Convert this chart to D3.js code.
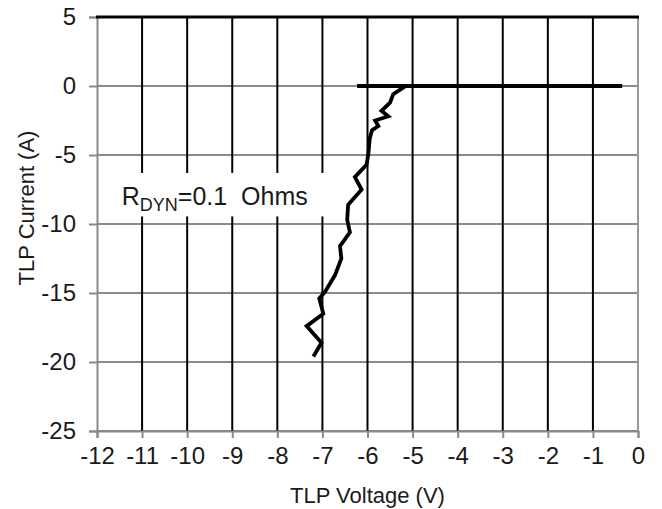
<!DOCTYPE html>
<html><head><meta charset="utf-8">
<script src="https://cdn.jsdelivr.net/npm/d3@7/dist/d3.min.js"></script>
<style>body{margin:0;background:#fff}svg{display:block}text{font-family:"Liberation Sans",Arial,sans-serif;fill:#1a1a1a}</style>
</head><body><svg id="c" width="662" height="509"></svg>
<script>
const xTicks = [-12,-11,-10,-9,-8,-7,-6,-5,-4,-3,-2,-1,0];
const yTicks = [5,0,-5,-10,-15,-20,-25];
// off-state segment (V, A)
const flatV = [-6.23, -0.35];
const flatI = [0, 0];
// snapback / clamping curve (V, A)
const curveV = [-5.15,-5.2,-5.43,-5.5,-5.69,-5.54,-5.83,-5.76,-5.9,-5.95,-5.98,-6.02,-6.28,-6.13,-6.43,-6.45,-6.39,-6.61,-6.58,-6.72,-6.94,-7.07,-6.98,-7.35,-7.02,-7.2];
const curveI = [0,-0.1,-0.6,-1.2,-1.8,-2.2,-2.5,-2.9,-3.2,-3.8,-4.9,-5.7,-6.6,-7.5,-8.6,-9.7,-10.6,-11.6,-12.5,-13.7,-14.9,-15.4,-16.5,-17.4,-18.6,-19.6];
const xTitle = "TLP Voltage (V)";
const yTitle = "TLP Current (A)";

const svg = d3.select("#c");
const L=97, R=638, T=17, B=431;
const x = d3.scaleLinear().domain([-12,0]).range([L,R]);
const y = d3.scaleLinear().domain([-25,5]).range([B,T]);
const fmt = d => String(d);

// horizontal gridlines (gray)
svg.append("g").selectAll("line").data(yTicks).join("line")
  .attr("x1",L).attr("x2",R).attr("y1",d=>y(d)).attr("y2",d=>y(d))
  .attr("stroke","#8a8a8a").attr("stroke-width",2);
// vertical gridlines (black)
svg.append("g").selectAll("line").data(xTicks.filter(d=>d>-12&&d<0)).join("line")
  .attr("x1",d=>x(d)).attr("x2",d=>x(d)).attr("y1",T).attr("y2",B)
  .attr("stroke","#000").attr("stroke-width",2);
// right border
svg.append("line").attr("x1",R).attr("x2",R).attr("y1",T).attr("y2",B).attr("stroke","#9a9a9a").attr("stroke-width",2);

// axes
const xAxis = d3.axisBottom(x).tickValues(xTicks).tickSize(7).tickPadding(9).tickFormat(fmt);
const gx = svg.append("g").attr("transform",`translate(0,${B})`).call(xAxis);
const yAxis = d3.axisLeft(y).tickValues(yTicks).tickSize(8).tickPadding(13).tickFormat(fmt);
const gy = svg.append("g").attr("transform",`translate(${L},0)`).call(yAxis);
[gx,gy].forEach(g=>{
  g.select(".domain").attr("stroke","#8a8a8a").attr("stroke-width",2);
  g.selectAll(".tick line").attr("stroke","#8a8a8a").attr("stroke-width",2);
  g.selectAll(".tick text").attr("font-size",24).attr("font-family","Liberation Sans, Arial, sans-serif").attr("fill","#1a1a1a");
});
// top border black
svg.append("line").attr("x1",L-1).attr("x2",R+1).attr("y1",y(5)).attr("y2",y(5)).attr("stroke","#000").attr("stroke-width",3);

// annotation box
svg.append("rect").attr("x",x(-11.82)).attr("y",y(-6.3)).attr("width",x(-6.8)-x(-11.82)).attr("height",y(-9.45)-y(-6.3)).attr("fill","#fff");
const ann = svg.append("text").attr("x",x(-11.45)).attr("y",y(-8.6)).attr("font-size",25).attr("xml:space","preserve");
ann.append("tspan").text("R");
ann.append("tspan").attr("font-size",18).attr("dy",6).text("DYN");
ann.append("tspan").attr("dy",-6).text("=0.1  Ohms");

// data lines
const line = d3.line().x(d=>x(d[0])).y(d=>y(d[1]));
svg.append("path").datum(flatV.map((v,i)=>[v,flatI[i]])).attr("d",line)
  .attr("fill","none").attr("stroke","#000").attr("stroke-width",3.8);
svg.append("path").datum(curveV.map((v,i)=>[v,curveI[i]])).attr("d",line)
  .attr("fill","none").attr("stroke","#000").attr("stroke-width",3.8).attr("stroke-linejoin","miter");

// titles
svg.append("text").attr("x",(L+R)/2).attr("y",503).attr("text-anchor","middle").attr("font-size",22).text(xTitle);
svg.append("text").attr("transform",`translate(34,208) rotate(-90)`).attr("text-anchor","middle").attr("font-size",22).text(yTitle);
</script></body></html>
